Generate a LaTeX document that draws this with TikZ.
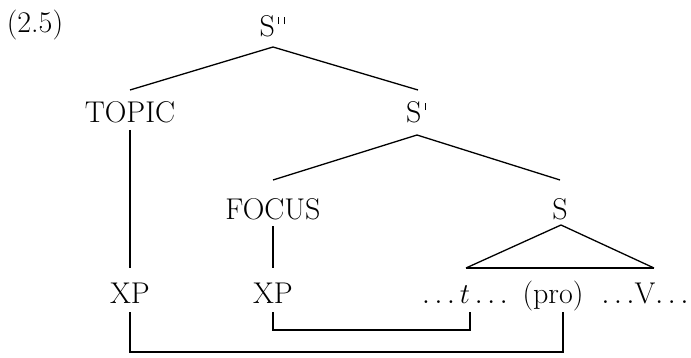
\documentclass[tikz,border=0pt]{standalone}
\usetikzlibrary{calc}
\newcommand{\tk}{\rule[0.43em]{0.45pt}{0.25em}}
\newcommand{\onep}{\kern0.12em\tk}
\newcommand{\twop}{\kern0.12em\tk\kern0.14em\tk}
\begin{document}
\begin{tikzpicture}[x=0.5pt,y=-0.5pt,
  lab/.style={inner sep=0,anchor=base,font=\fontsize{15}{18}\selectfont},
  br/.style={line width=0.65pt},
  thk/.style={line width=1.15pt}]
\useasboundingbox (0,0) rectangle (691,358);
\node[lab] (ex) at (35,33) {(2.5)};
\node[lab] (s2) at (272,37) {S\twop};
\node[lab] (topic) at (130,123) {TOPIC};
\node[lab] (s1) at (416,123) {S\onep};
\node[lab] (focus) at (273,220) {FOCUS};
\node[lab] (s) at (560,220) {S};
\node[lab] (xp1) at (130,303) {XP};
\node[lab] (xp2) at (273,303) {XP};
\node[lab] (tt) at (465,303) {$\ldots t\ldots$};
\node[lab] (pro) at (553,303) {(pro)};
\node[lab] (vv) at (645,303) {$\ldots$V$\ldots$};
% tree branches
\coordinate (a2) at ($(s2.base)+(1,10)$);
\coordinate (a1) at ($(s1.base)+(1,12)$);
\coordinate (a0) at ($(s.base)+(1,5)$);
\coordinate (bl) at ($(tt.base)+(1,-35)$);
\coordinate (brr) at ($(vv.base)+(9,-35)$);
\draw[br] (a2) -- ($(topic.base)+(0,-33)$);
\draw[br] (a2) -- ($(s1.base)+(2,-33)$);
\draw[br] (a1) -- ($(focus.base)+(0,-40)$);
\draw[br] (a1) -- ($(s.base)+(0,-40)$);
\draw[br] (bl) -- (a0) -- (brr);
\draw[thk] (bl) -- (brr);
% verticals
\draw[thk] ($(topic.base)+(0,7)$) -- ($(xp1.base)+(0,-35)$);
\draw[thk] ($(focus.base)+(0,6)$) -- ($(xp2.base)+(0,-35)$);
% binding connectors
\coordinate (tpt) at ($(tt.base)+(5,9)$);
\coordinate (ppt) at ($(pro.base)+(10,9)$);
\draw[thk] ($(xp2.base)+(0,9)$) -- ++(0,18) -| (tpt);
\draw[thk] ($(xp1.base)+(0,9)$) -- ++(0,40) -| (ppt);
\end{tikzpicture}
\end{document}
